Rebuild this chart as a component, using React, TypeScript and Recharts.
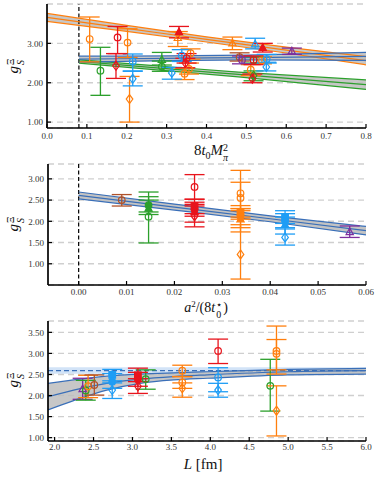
import React from 'react';
import { ComposedChart, Scatter, ErrorBar, Line, Area, XAxis, YAxis, ReferenceLine, CartesianGrid } from 'recharts';

type Pt = [number, number, number, number]; // x, y, lower end, upper end

const C = {
  orange: '#ff7f0e',
  red: '#e8141c',
  green: '#2ca02c',
  blue: '#1e9df5',
  purple: '#7d2e9e',
  brown: '#b0522a',
  bandBlue: '#3a6fb8',
  grey: '#bdbdbd',
};

// ---------- Panel 1: 8 t0 M_pi^2 ----------
const p1XTicks = [0, 0.1, 0.2, 0.3, 0.4, 0.5, 0.6, 0.7, 0.8];
const p1YTicks = [1, 2, 3];
const p1OrangeCircle: Pt[] = [
  [0.107, 3.11, 2.53, 3.67], [0.202, 3.02, 2.64, 3.37], [0.345, 2.23, 2.08, 2.37],
  [0.356, 2.35, 2.22, 2.5], [0.36, 2.75, 2.6, 2.86], [0.511, 2.33, 2.18, 2.46], [0.539, 2.57, 2.48, 2.66],
];
const p1OrangeDiamond: Pt[] = [[0.207, 1.585, 1.0, 2.16]];
const p1OrangeTri: Pt[] = [[0.328, 3.14, 2.92, 3.3], [0.465, 3.0, 2.84, 3.16]];
const p1RedCircle: Pt[] = [[0.177, 3.15, 2.74, 3.43], [0.35, 2.62, 2.5, 2.74], [0.518, 2.58, 2.46, 2.68]];
const p1RedDiamond: Pt[] = [[0.173, 2.43, 2.11, 2.74], [0.347, 2.5, 2.38, 2.62], [0.515, 2.1, 2.0, 2.22]];
const p1RedTri: Pt[] = [[0.331, 3.29, 3.14, 3.43], [0.541, 2.89, 2.78, 3.0]];
const p1GreenCircle: Pt[] = [[0.134, 2.305, 1.68, 2.9], [0.288, 2.41, 2.29, 2.55], [0.518, 2.58, 2.5, 2.66]];
const p1GreenDiamond: Pt[] = [[0.518, 2.18, 2.05, 2.3]];
const p1GreenTri: Pt[] = [[0.288, 2.585, 2.45, 2.77]];
const p1BlueCircle: Pt[] = [[0.215, 2.54, 2.29, 2.73], [0.338, 2.69, 2.54, 2.84], [0.551, 2.6, 2.5, 2.72]];
const p1BlueDiamond: Pt[] = [[0.215, 2.1, 1.92, 2.3], [0.313, 2.25, 2.09, 2.39], [0.55, 2.4, 2.3, 2.52]];
const p1BlueTri: Pt[] = [[0.522, 2.98, 2.86, 3.13]];
const p1BrownCircle: Pt[] = [[0.483, 2.65, 2.55, 2.76]];
const p1PurpleCircle: Pt[] = [[0.489, 2.58, 2.48, 2.68]];
const p1PurpleTri: Pt[] = [[0.614, 2.8, 2.72, 2.88]];

const p1OrangeBandX = [0, 0.2, 0.4, 0.6, 0.8];
const p1OrangeBandLo = [3.56, 3.305, 3.035, 2.755, 2.455];
const p1OrangeBandMid = [3.66, 3.38, 3.1, 2.83, 2.56];
const p1OrangeBandHi = [3.76, 3.455, 3.165, 2.905, 2.665];

const p1BlueBandX = [0.08, 0.3, 0.5, 0.8];
const p1BlueBandLo = [2.525, 2.56, 2.58, 2.57];
const p1BlueBandMid = [2.6, 2.62, 2.64, 2.67];
const p1BlueBandHi = [2.675, 2.68, 2.7, 2.77];

const p1GreenBandX = [0.08, 0.26, 0.48, 0.8];
const p1GreenBandLo = [2.5, 2.34, 2.15, 1.83];
const p1GreenBandMid = [2.54, 2.39, 2.21, 1.95];
const p1GreenBandHi = [2.58, 2.44, 2.27, 2.07];

// ---------- Panel 2: a^2/(8 t0*) ----------
const p2XTicks = [0, 0.01, 0.02, 0.03, 0.04, 0.05, 0.06];
const p2YTicks = [1, 1.5, 2, 2.5, 3];
const p2BrownCircle: Pt[] = [[0.009, 2.5, 2.36, 2.63]];
const p2GreenOpen: Pt[] = [[0.0146, 2.11, 1.49, 2.69]];
const p2GreenFilledCircle: Pt[] = [[0.0146, 2.38, 2.22, 2.58]];
const p2GreenFilledTri: Pt[] = [[0.0146, 2.3, 2.16, 2.5]];
const p2RedOpenCircle: Pt[] = [[0.0242, 2.81, 2.52, 3.1]];
const p2RedSquare: Pt[] = [[0.0242, 2.36, 2.18, 2.52]];
const p2RedFilledCircle: Pt[] = [[0.0242, 2.28, 2.12, 2.45]];
const p2RedFilledTri: Pt[] = [[0.0242, 2.22, 1.98, 2.4]];
const p2RedDiamond: Pt[] = [[0.0242, 2.12, 1.87, 2.36]];
const p2OrangeOpenCircle: Pt[] = [[0.0338, 2.66, 2.1, 3.2], [0.0338, 2.55, 2.3, 2.92]];
const p2OrangeSquare: Pt[] = [[0.0338, 2.22, 2.05, 2.37]];
const p2OrangeFilledCircle: Pt[] = [[0.0338, 2.12, 1.85, 2.3]];
const p2OrangeFilledTri: Pt[] = [[0.0338, 2.05, 1.75, 2.25]];
const p2OrangeDiamond: Pt[] = [[0.0338, 1.22, 0.64, 1.92]];
const p2BlueSquare: Pt[] = [[0.0431, 2.1, 1.95, 2.25]];
const p2BlueFilledCircle: Pt[] = [[0.0431, 2.0, 1.85, 2.18]];
const p2BlueFilledTri: Pt[] = [[0.0431, 1.92, 1.7, 2.1]];
const p2BlueDiamond: Pt[] = [[0.0431, 1.62, 1.44, 1.82]];
const p2PurpleTri: Pt[] = [[0.0566, 1.75, 1.62, 1.89]];

const p2BandX = [0, 0.02, 0.04, 0.06];
const p2BandLo = [2.53, 2.265, 1.99, 1.68];
const p2BandMid = [2.61, 2.335, 2.06, 1.78];
const p2BandHi = [2.69, 2.405, 2.13, 1.88];

// ---------- Panel 3: L [fm] ----------
const p3XTicks = [2, 2.5, 3, 3.5, 4, 4.5, 5, 5.5, 6];
const p3YTicks = [1, 1.5, 2, 2.5, 3, 3.5];
const p3PurpleTri: Pt[] = [[2.36, 2.155, 1.91, 2.41]];
const p3GreenCircle: Pt[] = [[2.4, 2.12, 1.89, 2.36], [3.17, 2.39, 2.15, 2.61], [4.77, 2.23, 1.63, 2.86]];
const p3OrangeCircle: Pt[] = [
  [2.43, 2.22, 1.95, 2.48], [3.64, 2.59, 2.45, 2.72], [3.64, 2.31, 2.17, 2.45],
  [4.85, 3.06, 2.51, 3.65], [4.85, 2.99, 2.61, 3.33],
];
const p3OrangeDiamond: Pt[] = [[3.64, 2.17, 1.96, 2.3], [4.85, 1.64, 1.04, 2.23]];
const p3BrownCircle: Pt[] = [[2.51, 2.25, 2.01, 2.49]];
const p3BlueSquare: Pt[] = [[2.74, 2.49, 2.35, 2.62]];
const p3BlueFilledCircle: Pt[] = [[2.74, 2.33, 2.17, 2.52]];
const p3BlueCircle: Pt[] = [[4.1, 2.43, 2.09, 2.66]];
const p3BlueDiamond: Pt[] = [[2.74, 2.13, 1.93, 2.3], [4.1, 2.13, 1.96, 2.29]];
const p3RedSquare: Pt[] = [[3.07, 2.48, 2.33, 2.65]];
const p3RedFilledCircle: Pt[] = [[3.07, 2.38, 2.22, 2.55]];
const p3RedDiamond: Pt[] = [[3.07, 2.22, 2.05, 2.4]];
const p3RedCircle: Pt[] = [[4.1, 3.06, 2.76, 3.34]];

const p3BandX = [1.915, 2.244, 2.67, 3.1, 3.53, 3.96, 5.0, 6.0];
const p3BandLo = [1.66, 1.88, 2.13, 2.29, 2.37, 2.41, 2.49, 2.51];
const p3BandMid = [1.97, 2.13, 2.29, 2.39, 2.45, 2.49, 2.565, 2.59];
const p3BandHi = [2.29, 2.37, 2.46, 2.51, 2.54, 2.565, 2.62, 2.645];
const p3InfX = [1.915, 6.0];
const p3InfLo = [2.52, 2.52];
const p3InfMid = [2.59, 2.59];
const p3InfHi = [2.67, 2.67];

// ---------- helpers ----------
type Marker = 'o' | 'd' | '^' | 's';
type Series = { pts: Pt[]; color: string; marker: Marker; filled: boolean };
type Band = { x: number[]; lo: number[]; mid: number[]; hi: number[]; line: string; fill: string; fillOpacity: number; dashMid?: boolean; midOnly?: boolean };

const makeShape = (marker: Marker, color: string, filled: boolean) => (props: any) => {
  const { cx, cy } = props;
  if (cx == null || cy == null) return <g />;
  const r = 3.3;
  const fill = filled ? color : 'none';
  const sw = 1.2;
  if (marker === 'o') return <circle cx={cx} cy={cy} r={r} fill={fill} stroke={color} strokeWidth={sw} />;
  if (marker === 'd')
    return <path d={`M${cx},${cy - r * 1.35}L${cx + r},${cy}L${cx},${cy + r * 1.35}L${cx - r},${cy}Z`} fill={fill} stroke={color} strokeWidth={sw} />;
  if (marker === 's') return <rect x={cx - r} y={cy - r} width={2 * r} height={2 * r} fill={fill} stroke={color} strokeWidth={sw} />;
  return <path d={`M${cx},${cy - r * 1.2}L${cx + r * 1.1},${cy + r * 0.8}L${cx - r * 1.1},${cy + r * 0.8}Z`} fill={fill} stroke={color} strokeWidth={sw} />;
};

const ff = "'Liberation Serif', 'DejaVu Serif', serif";

type PanelProps = {
  top: number; height: number; margin: { top: number; right: number; bottom: number; left: number };
  xDomain: [number, number]; xTicks: number[]; xDec: number; xAxisHeight: number; xTickMargin: number;
  yDomain: [number, number]; yTicks: number[];
  vline?: number; bands: Band[]; series: Series[];
};

function Panel(p: PanelProps) {
  const tickStyle = { fontSize: 9, fill: '#333', fontFamily: ff };
  const axisLine = { stroke: '#000', strokeWidth: 1.7 };
  return (
    <div style={{ position: 'absolute', left: 0, top: p.top }}>
      <ComposedChart width={382} height={p.height} margin={p.margin}>
        <CartesianGrid vertical={false} stroke="#cfcfcf" strokeWidth={1.4} strokeDasharray="6 4" />
        <XAxis dataKey="x" type="number" domain={p.xDomain} ticks={p.xTicks} allowDataOverflow
          tickFormatter={(v: number) => v.toFixed(p.xDec)} height={p.xAxisHeight} tickSize={-4} tickMargin={p.xTickMargin}
          axisLine={axisLine} tickLine={{ stroke: '#000', strokeWidth: 1.2 }} tick={tickStyle} interval={0} />
        <XAxis xAxisId="top" orientation="top" dataKey="x" type="number" domain={p.xDomain} allowDataOverflow height={0}
          tick={false} tickLine={false} axisLine={axisLine} />
        <YAxis type="number" domain={p.yDomain} ticks={p.yTicks} allowDataOverflow width={40} tickSize={-4} tickMargin={8}
          tickFormatter={(v: number) => v.toFixed(2)} axisLine={axisLine} tickLine={{ stroke: '#000', strokeWidth: 1.2 }} tick={tickStyle} interval={0} />
        <YAxis yAxisId="r" orientation="right" type="number" domain={p.yDomain} ticks={p.yTicks} allowDataOverflow width={0}
          tickSize={-4} tick={false} axisLine={axisLine} tickLine={{ stroke: '#000', strokeWidth: 1.2 }} interval={0} />
        {p.vline !== undefined && (
          <ReferenceLine x={p.vline} stroke="#000" strokeWidth={1.2} strokeDasharray="4 2.5" />
        )}
        {p.bands.map((b, bi) => {
          const rows = b.x.map((x, i) => ({ x, lo: b.lo[i], mid: b.mid[i], hi: b.hi[i], range: [b.lo[i], b.hi[i]] }));
          return [
            <Area key={`a${bi}`} data={rows} dataKey="range" type="monotone" fill={b.fill} fillOpacity={b.fillOpacity} stroke="none" isAnimationActive={false} />,
            ...(b.midOnly ? [] : [
              <Line key={`lo${bi}`} data={rows} dataKey="lo" type="monotone" stroke={b.line} strokeWidth={1.2} dot={false} isAnimationActive={false} />,
              <Line key={`hi${bi}`} data={rows} dataKey="hi" type="monotone" stroke={b.line} strokeWidth={1.2} dot={false} isAnimationActive={false} />,
            ]),
            <Line key={`m${bi}`} data={rows} dataKey="mid" type="monotone" stroke={b.line} strokeWidth={1.2}
              strokeDasharray={b.dashMid ? '5 3' : undefined} dot={false} isAnimationActive={false} />,
          ];
        })}
        {p.series.map((s, si) => (
          <Scatter key={`s${si}`} data={s.pts.map(([x, y, lo, hi]) => ({ x, y, err: [y - lo, hi - y] }))} dataKey="y"
            fill={s.color} shape={makeShape(s.marker, s.color, s.filled)} isAnimationActive={false}>
            <ErrorBar dataKey="err" direction="y" stroke={s.color} strokeWidth={1.3} width={10} />
          </Scatter>
        ))}
      </ComposedChart>
    </div>
  );
}

const p1Series: Series[] = [
  { pts: p1OrangeCircle, color: C.orange, marker: 'o', filled: false },
  { pts: p1OrangeDiamond, color: C.orange, marker: 'd', filled: false },
  { pts: p1OrangeTri, color: C.orange, marker: '^', filled: false },
  { pts: p1GreenCircle, color: C.green, marker: 'o', filled: false },
  { pts: p1GreenDiamond, color: C.green, marker: 'd', filled: false },
  { pts: p1GreenTri, color: C.green, marker: '^', filled: false },
  { pts: p1BlueCircle, color: C.blue, marker: 'o', filled: false },
  { pts: p1BlueDiamond, color: C.blue, marker: 'd', filled: false },
  { pts: p1BlueTri, color: C.blue, marker: '^', filled: false },
  { pts: p1BrownCircle, color: C.brown, marker: 'o', filled: false },
  { pts: p1PurpleCircle, color: C.purple, marker: 'o', filled: false },
  { pts: p1PurpleTri, color: C.purple, marker: '^', filled: false },
  { pts: p1RedCircle, color: C.red, marker: 'o', filled: false },
  { pts: p1RedDiamond, color: C.red, marker: 'd', filled: false },
  { pts: p1RedTri, color: C.red, marker: '^', filled: true },
];
const p1Bands: Band[] = [
  { x: p1OrangeBandX, lo: p1OrangeBandLo, mid: p1OrangeBandMid, hi: p1OrangeBandHi, line: C.orange, fill: C.grey, fillOpacity: 0.85 },
  { x: p1GreenBandX, lo: p1GreenBandLo, mid: p1GreenBandMid, hi: p1GreenBandHi, line: C.green, fill: C.grey, fillOpacity: 0.85 },
  { x: p1BlueBandX, lo: p1BlueBandLo, mid: p1BlueBandMid, hi: p1BlueBandHi, line: C.bandBlue, fill: C.grey, fillOpacity: 0.85 },
];

const p2Series: Series[] = [
  { pts: p2BrownCircle, color: C.brown, marker: 'o', filled: false },
  { pts: p2GreenOpen, color: C.green, marker: 'o', filled: false },
  { pts: p2GreenFilledCircle, color: C.green, marker: 'o', filled: true },
  { pts: p2GreenFilledTri, color: C.green, marker: '^', filled: true },
  { pts: p2RedOpenCircle, color: C.red, marker: 'o', filled: false },
  { pts: p2RedSquare, color: C.red, marker: 's', filled: true },
  { pts: p2RedFilledCircle, color: C.red, marker: 'o', filled: true },
  { pts: p2RedFilledTri, color: C.red, marker: '^', filled: true },
  { pts: p2RedDiamond, color: C.red, marker: 'd', filled: false },
  { pts: p2OrangeOpenCircle, color: C.orange, marker: 'o', filled: false },
  { pts: p2OrangeSquare, color: C.orange, marker: 's', filled: true },
  { pts: p2OrangeFilledCircle, color: C.orange, marker: 'o', filled: true },
  { pts: p2OrangeFilledTri, color: C.orange, marker: '^', filled: true },
  { pts: p2OrangeDiamond, color: C.orange, marker: 'd', filled: false },
  { pts: p2BlueSquare, color: C.blue, marker: 's', filled: true },
  { pts: p2BlueFilledCircle, color: C.blue, marker: 'o', filled: true },
  { pts: p2BlueFilledTri, color: C.blue, marker: '^', filled: true },
  { pts: p2BlueDiamond, color: C.blue, marker: 'd', filled: false },
  { pts: p2PurpleTri, color: C.purple, marker: '^', filled: false },
];
const p2Bands: Band[] = [
  { x: p2BandX, lo: p2BandLo, mid: p2BandMid, hi: p2BandHi, line: C.bandBlue, fill: C.grey, fillOpacity: 0.9 },
];

const p3Series: Series[] = [
  { pts: p3PurpleTri, color: C.purple, marker: '^', filled: false },
  { pts: p3GreenCircle, color: C.green, marker: 'o', filled: false },
  { pts: p3OrangeCircle, color: C.orange, marker: 'o', filled: false },
  { pts: p3OrangeDiamond, color: C.orange, marker: 'd', filled: false },
  { pts: p3BrownCircle, color: C.brown, marker: 'o', filled: false },
  { pts: p3BlueSquare, color: C.blue, marker: 's', filled: true },
  { pts: p3BlueFilledCircle, color: C.blue, marker: 'o', filled: true },
  { pts: p3BlueCircle, color: C.blue, marker: 'o', filled: false },
  { pts: p3BlueDiamond, color: C.blue, marker: 'd', filled: false },
  { pts: p3RedSquare, color: C.red, marker: 's', filled: true },
  { pts: p3RedFilledCircle, color: C.red, marker: 'o', filled: true },
  { pts: p3RedDiamond, color: C.red, marker: 'd', filled: false },
  { pts: p3RedCircle, color: C.red, marker: 'o', filled: false },
];
const p3Bands: Band[] = [
  { x: p3InfX, lo: p3InfLo, mid: p3InfMid, hi: p3InfHi, line: C.bandBlue, fill: '#9cc2ee', fillOpacity: 0.45, dashMid: true, midOnly: true },
  { x: p3BandX, lo: p3BandLo, mid: p3BandMid, hi: p3BandHi, line: C.bandBlue, fill: C.grey, fillOpacity: 0.85 },
];

const labelBase: React.CSSProperties = { position: 'absolute', fontFamily: ff, fontSize: 15, whiteSpace: 'nowrap', lineHeight: 1, color: '#111' };

function YLabel({ cx, cy }: { cx: number; cy: number }) {
  return (
    <div style={{ ...labelBase, left: cx, top: cy, transform: 'translate(-50%,-50%) rotate(-90deg)' }}>
      <i>g</i>
      <span style={{ display: 'inline-block', verticalAlign: 'middle', fontSize: 10, lineHeight: 0.95, marginLeft: 1 }}>
        <span style={{ display: 'block' }}>Ξ</span>
        <span style={{ display: 'block' }}><i>S</i></span>
      </span>
    </div>
  );
}

export default function App() {
  return (
    <div style={{ position: 'absolute', left: 0, top: 0, width: 382, height: 479, background: '#fff' }}>
      <Panel top={0} height={160} margin={{ top: 4, right: 16, bottom: 4, left: 7 }}
        xDomain={[0, 0.8]} xTicks={p1XTicks} xDec={1} xAxisHeight={28} xTickMargin={9}
        yDomain={[0.85, 4.0]} yTicks={p1YTicks} vline={0.08} bands={p1Bands} series={p1Series} />
      <Panel top={160} height={150} margin={{ top: 4, right: 16, bottom: 3, left: 8 }}
        xDomain={[-0.0064, 0.06]} xTicks={p2XTicks} xDec={2} xAxisHeight={22} xTickMargin={8}
        yDomain={[0.5, 3.35]} yTicks={p2YTicks} vline={0} bands={p2Bands} series={p2Series} />
      <Panel top={315} height={164} margin={{ top: 6, right: 16, bottom: 10, left: 8 }}
        xDomain={[1.915, 6.0]} xTicks={p3XTicks} xDec={1} xAxisHeight={28} xTickMargin={7}
        yDomain={[0.92, 3.77]} yTicks={p3YTicks} bands={p3Bands} series={p3Series} />

      <YLabel cx={15} cy={66} />
      <YLabel cx={15} cy={224} />
      <YLabel cx={15} cy={380} />

      <div style={{ ...labelBase, left: 211, top: 152, transform: 'translate(-50%,-50%)' }}>
        8<i>t</i><sub style={{ fontSize: 10 }}>0</sub><i>M</i>
        <span style={{ display: 'inline-block', verticalAlign: 'middle', fontSize: 10, lineHeight: 0.95 }}>
          <span style={{ display: 'block' }}>2</span>
          <span style={{ display: 'block' }}><i>π</i></span>
        </span>
      </div>
      <div style={{ ...labelBase, left: 206, top: 309, fontSize: 14, transform: 'translate(-50%,-50%)' }}>
        <i>a</i><sup style={{ fontSize: 9 }}>2</sup>/(8<i>t</i>
        <span style={{ display: 'inline-block', verticalAlign: 'middle', fontSize: 10, lineHeight: 0.95, marginLeft: 1, marginRight: 1 }}>
          <span style={{ display: 'block' }}>⋆</span>
          <span style={{ display: 'block' }}>0</span>
        </span>)
      </div>
      <div style={{ ...labelBase, left: 203, top: 464, transform: 'translate(-50%,-50%)' }}>
        <i>L</i> [fm]
      </div>
    </div>
  );
}
